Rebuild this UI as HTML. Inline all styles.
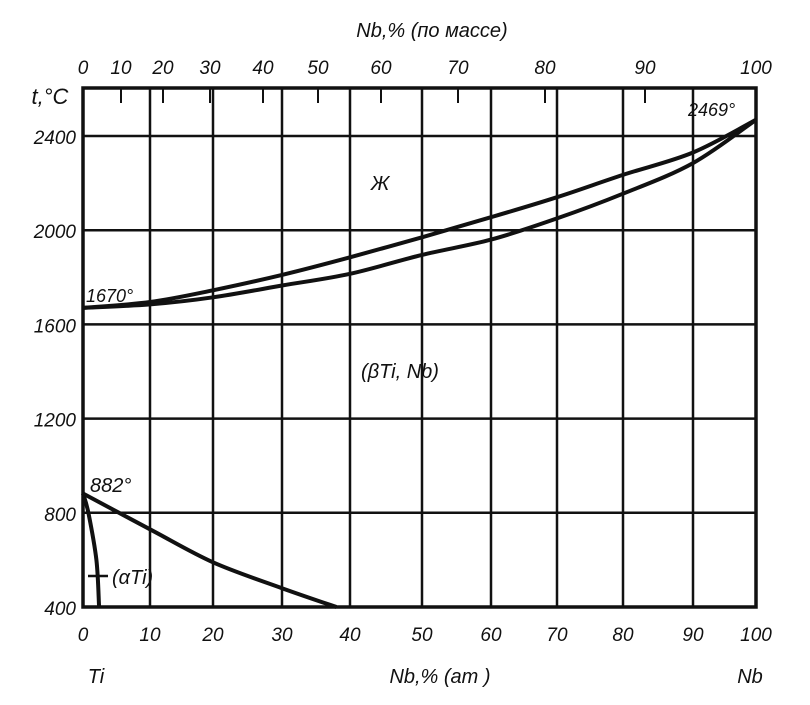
<!DOCTYPE html>
<html><head><meta charset="utf-8"><style>
body{margin:0;background:#fff}
svg text{font-family:"Liberation Sans",sans-serif;font-style:italic;font-weight:normal;fill:#111}
</style></head><body>
<svg id="chart" width="810" height="700" viewBox="0 0 810 700" xmlns="http://www.w3.org/2000/svg"></svg>
<script>
const atTicks=[0,10,20,30,40,50,60,70,80,90,100];
const atTickPx=[83,150,213,282,350,422,491,557,623,693,756];
const massTicks=[0,10,20,30,40,50,60,70,80,90,100];
const massTickPx=[83,121,163,210,263,318,381,458,545,645,756];
const tempTicks=[400,800,1200,1600,2000,2400];
const liqX=[0,10,20,30,40,50,60,70,80,90,100];
const liqT=[1670,1695,1745,1810,1885,1970,2055,2140,2235,2330,2469];
const solX=[0,10,20,30,40,50,60,70,80,90,100];
const solT=[1670,1685,1715,1765,1815,1895,1960,2050,2155,2285,2469];
const transX=[0,10,20,30,38];
const transT=[882,730,590,480,400];
const alphaX=[0,0.8,2,2.4];
const alphaT=[882,800,600,400];

const NS="http://www.w3.org/2000/svg";
const svg=document.getElementById('chart');
const L=83,R=756,T0=88,B=607;
function xs(v){
  for(let i=0;i<atTicks.length-1;i++){
    if(v<=atTicks[i+1]){const f=(v-atTicks[i])/(atTicks[i+1]-atTicks[i]);return atTickPx[i]+f*(atTickPx[i+1]-atTickPx[i]);}
  }
  return atTickPx[atTickPx.length-1];
}
function ys(t){return B-(t-400)*0.2355;}
function mk(tag,attrs){const e=document.createElementNS(NS,tag);for(const k in attrs)e.setAttribute(k,attrs[k]);svg.appendChild(e);return e;}
function txt(s,x,y,size,anchor){const e=mk('text',{x:x,y:y,'font-size':size,'text-anchor':anchor||'middle'});e.textContent=s;return e;}

const fr=mk('rect',{x:L,y:T0,width:R-L,height:B-T0,fill:'none',stroke:'#111','stroke-width':3.5});



atTicks.forEach((v,i)=>{
  const x=xs(v);
  if(i>0&&i<atTicks.length-1){
    const g=mk('line',{x1:x,y1:T0,x2:x,y2:B,stroke:'#111','stroke-width':2.5});
    
    
  }
  const t=txt(String(v),x,641,19);
  
  
});
tempTicks.forEach(v=>{
  const y=ys(v);
  const g=mk('line',{x1:L,y1:y,x2:R,y2:y,stroke:'#111','stroke-width':2.5});
  
  
  const t=txt(String(v),76,y+8,19,'end');
  
  
});
massTicks.forEach((v,i)=>{
  const x=massTickPx[i];
  if(i>0&&i<massTicks.length-1){
    const tk=mk('line',{x1:x,y1:T0,x2:x,y2:T0+15,stroke:'#111','stroke-width':2});
    
    
  }
  const t=txt(String(v),x,74,19);
  
  
});
function curve(xa,ta,name){
  const P=xa.map((v,i)=>[xs(v),ys(ta[i])]);
  let d='M'+P[0][0].toFixed(1)+','+P[0][1].toFixed(1);
  for(let i=0;i<P.length-1;i++){
    const p0=P[Math.max(0,i-1)],p1=P[i],p2=P[i+1],p3=P[Math.min(P.length-1,i+2)];
    const c1=[p1[0]+(p2[0]-p0[0])/6,p1[1]+(p2[1]-p0[1])/6];
    const c2=[p2[0]-(p3[0]-p1[0])/6,p2[1]-(p3[1]-p1[1])/6];
    d+=' C'+c1.map(n=>n.toFixed(1)).join(',')+' '+c2.map(n=>n.toFixed(1)).join(',')+' '+p2.map(n=>n.toFixed(1)).join(',');
  }
  const p=mk('path',{d:d,fill:'none',stroke:'#111','stroke-width':4,'stroke-linejoin':'round'});
  
  
}
curve(liqX,liqT,'liquidus-line');
curve(solX,solT,'solidus-line');
curve(transX,transT,'beta-transus-line');
curve(alphaX,alphaT,'alpha-solvus-line');

const labels=[
 ['Nb,% (по массе)',432,37,20,'middle','top-axis-title'],
 ['t,°C',50,104,22,'middle','y-axis-title'],
 ['Ж',380,190,20,'middle','liquid-label'],
 ['1670°',86,302,18,'start','ti-melting-label'],
 ['2469°',688,116,18,'start','nb-melting-label'],
 ['(βTi, Nb)',400,378,20,'middle','beta-phase-label'],
 ['882°',90,492,20,'start','transus-label'],
 ['(αTi)',112,584,20,'start','alpha-phase-label'],
 ['Ti',96,683,20,'middle','ti-label'],
 ['Nb,% (ат )',440,683,20,'middle','x-axis-title'],
 ['Nb',750,683,20,'middle','nb-label']
];
labels.forEach(a=>{const t=txt(a[0],a[1],a[2],a[3],a[4]);
  
  });
const ar=mk('line',{x1:88,y1:576,x2:108,y2:576,stroke:'#111','stroke-width':2.5});


</script>
</body></html>
